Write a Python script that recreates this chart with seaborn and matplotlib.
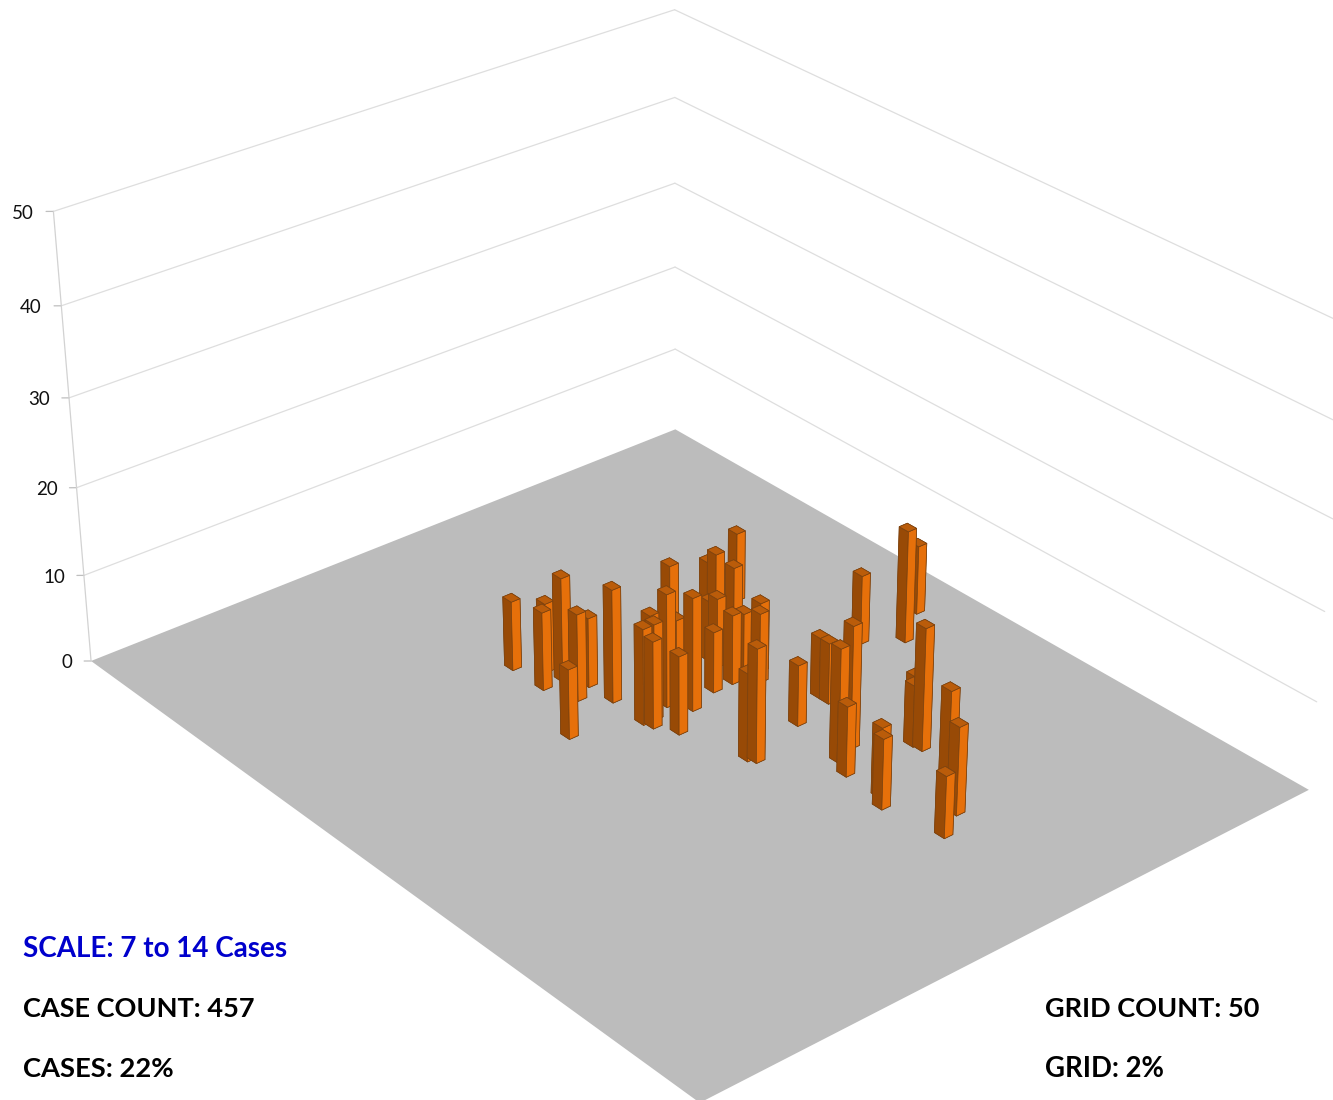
import numpy as np
import matplotlib
matplotlib.use('Agg')
import matplotlib.pyplot as plt
import seaborn as sns
from mpl_toolkits.mplot3d import Axes3D
from mpl_toolkits.mplot3d.art3d import Poly3DCollection

# ---- data -----------------------------------------------------------------
grid_x = [15.1,16.4,17.7,17.7,19.7,19.0,21.0,22.3,23.7,24.3,22.9,23.7,23.15,20.35,22.1,24.3,25.6,
          17.9,19.6,21.1,21.8,23.6,20.6,17.23,23.6,23.2,23.6,24.4,30.2,29.8,28.9,27.6,28.3,32.9,
          32.3,24.9,34.1,26.3,24.5,34.8,33.6,34.2,38.8,40.3,41.4,36.7,37.5]
grid_y = [29.5,28.0,29.5,27.9,28.6,27.0,27.0,31.9,27.2,27.0,25.8,26.3,24.68,21.53,22.8,23.7,26.2,
          15.7,16.8,18.9,19.0,21.2,16.3,12.47,19.6,18.2,17.2,18.1,24.6,24.9,19.7,16.4,16.4,20.6,
          18.9,9.8,21.3,7.4,4.3,15.6,14.9,15.7,18.0,19.0,21.3,21.3,22.1]
cases  = [8,8,9,12,10,8,13,8,11,10,11,11,13,12,8,13,9,
          7,10,7,8,7,9,8,8,7,8,8,13,10,7,7,7,13,
          14,8,8,13,8,14,7,7,12,10,7,8,8]
z_ticks = [0,10,20,30,40,50]
notes_left = ["SCALE: 7 to 14 Cases","CASE COUNT: 457","CASES: 22%"]
notes_right = ["GRID COUNT: 50","GRID: 2%"]

GRID_N = 50
BAR_W = 0.72
colors = sns.color_palette(["#BA5C0A","#984A06","#E6700A"])   # top, left face, right face
TOP, LEFT, RIGHT = colors
EDGE = "#7A4210"
FLOOR = "#BCBCBC"
WALL = "#DEDEDE"

sns.set_theme(style="white")
plt.rcParams['font.family'] = ['Lato','DejaVu Sans']

# ---- camera: calibrated from the floor corners and wall heights ------------
calib = [((0,0,0),(675,430)),((0,0,10),(675,349)),((0,0,20),(675,267)),((0,0,30),(675,183)),
         ((0,0,40),(675,97)),((0,0,50),(675,10)),
         ((0,50,0),(91,661)),((0,50,10),(84,575)),((0,50,20),(77,487)),((0,50,30),(69,398)),
         ((0,50,40),(61,306)),((0,50,50),(53,212)),
         ((50,0,0),(1309,790)),((50,0,10),(1317,702)),((50,0,20),(1324,611)),((50,50,0),(700,1103))]
rows = []
for (X,Y,Z),(u,v) in calib:
    rows.append([X,Y,Z,1,0,0,0,0,-u*X,-u*Y,-u*Z,-u])
    rows.append([0,0,0,0,X,Y,Z,1,-v*X,-v*Y,-v*Z,-v])
P = np.linalg.svd(np.array(rows,float))[2][-1].reshape(3,4)
P = P / P[2,3]
M = np.vstack([P[0], P[1], P[2]-np.array([0,0,0,0.1]), P[2]])

def project(x, y, z):
    h = P @ [x, y, z, 1]
    return h[0]/h[2], h[1]/h[2]

fig = plt.figure(figsize=(13.33,11), dpi=100)
ax = fig.add_axes([0,0,1,1], projection='3d', computed_zorder=False)
ax.set_proj_type('ortho')          # no clipping of lines; the matrix below is the camera
ax.get_proj = lambda: M
ax.apply_aspect = lambda *a, **k: None
ax.set_axis_off()

# floor
floor = Poly3DCollection([[(0,0,0),(GRID_N,0,0),(GRID_N,GRID_N,0),(0,GRID_N,0)]],
                         facecolor=FLOOR, edgecolor='none', zorder=1)
ax.add_collection3d(floor)

# walls, ticks and labels
for z in z_ticks:
    if z > 0:
        ax.plot([0,GRID_N],[0,0],[z,z],color=WALL,lw=0.9,zorder=0.5)
        ax.plot([0,0],[0,GRID_N],[z,z],color=WALL,lw=0.9,zorder=0.5)
    ax.plot([0,-0.23],[GRID_N,GRID_N+0.35],[z,z],color="#BFBFBF",lw=0.9,zorder=0.5)
    px, py = project(-0.62, GRID_N+0.95, z)
    ax.text2D(px, py+1.5, str(z), ha='right', va='center', fontsize=13.5, color='#111111',
              zorder=3, transform=ax.transData)
ax.plot([0,0],[GRID_N,GRID_N],[z_ticks[0],z_ticks[-1]],color="#D2D2D2",lw=0.9,zorder=0.5)

# bars, back to front
depth = [P[2] @ [x,y,0,1] for x,y in zip(grid_x,grid_y)]
order = np.argsort(depth)[::-1]
for k,i in enumerate(order):
    ax.bar3d(grid_x[i]-BAR_W, grid_y[i]-BAR_W, 0, BAR_W, BAR_W, cases[i],
             color=[TOP,TOP,LEFT,LEFT,RIGHT,RIGHT], shade=False,
             edgecolor=EDGE, linewidth=0.5, zorder=2+k*0.001)

ax.viewLim.intervalx = (0,1333)
ax.viewLim.intervaly = (1100,0)

# notes
for t,yy,c,fs in zip(notes_left,[949,1009,1069],["#0000CC","black","black"],[20,19.5,19.7]):
    fig.text(23/1333,1-yy/1100,t,color=c,fontsize=fs,fontweight='bold',va='center',ha='left')
for t,yy,fs in zip(notes_right,[1009,1069],[19.5,19.8]):
    fig.text(1045/1333,1-yy/1100,t,color='black',fontsize=fs,fontweight='bold',va='center',ha='left')

fig.savefig('out.png',dpi=100)
